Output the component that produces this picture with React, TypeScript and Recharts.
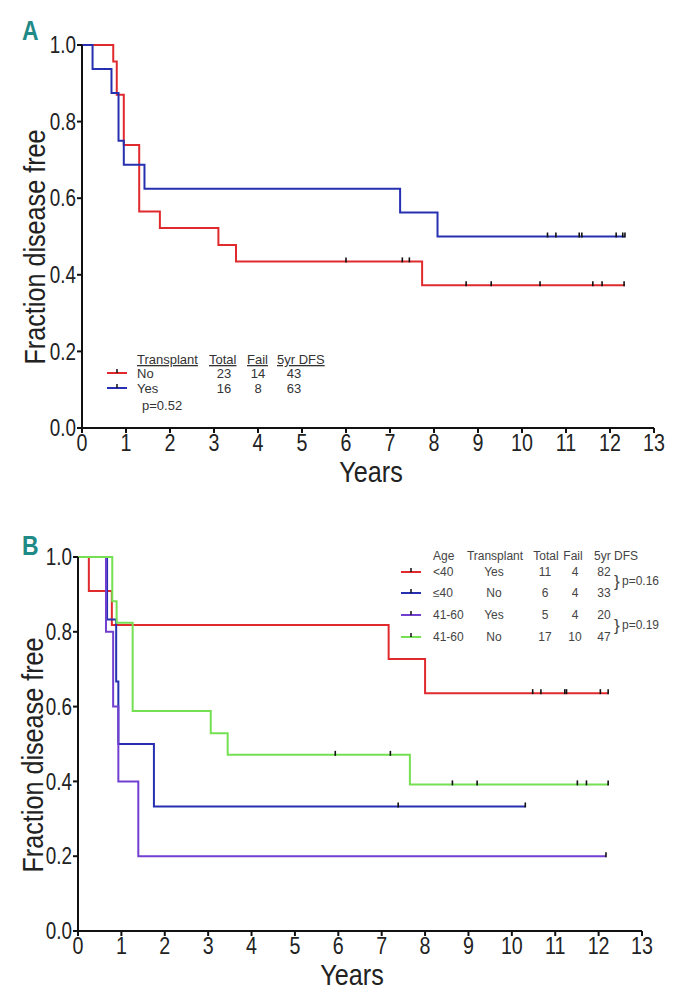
import React from 'react'
import { ComposedChart, Line, XAxis, YAxis } from 'recharts'

// ---- Panel A: transplant No / Yes ----
const aNoTimes = [0, 0.71, 0.79, 0.95, 1.3, 1.77, 3.1, 3.5, 7.73, 12.34]
const aNoSurv = [1.0, 0.957, 0.87, 0.739, 0.565, 0.522, 0.478, 0.435, 0.373, 0.373]
const aNoCensorTimes = [6.0, 7.28, 7.44, 8.73, 9.3, 10.41, 11.61, 11.82, 12.32]
const aNoCensorSurv = [0.435, 0.435, 0.435, 0.373, 0.373, 0.373, 0.373, 0.373, 0.373]

const aYesTimes = [0, 0.24, 0.67, 0.83, 0.95, 1.42, 7.23, 8.08, 12.34]
const aYesSurv = [1.0, 0.9375, 0.875, 0.75, 0.6875, 0.625, 0.5625, 0.5, 0.5]
const aYesCensorTimes = [10.58, 10.77, 11.3, 11.36, 12.14, 12.29, 12.34]
const aYesCensorSurv = [0.5, 0.5, 0.5, 0.5, 0.5, 0.5, 0.5]

// ---- Panel B: age x transplant ----
const bRedTimes = [0, 0.25, 0.78, 7.16, 8.0, 12.22]
const bRedSurv = [1.0, 0.909, 0.818, 0.727, 0.636, 0.636]
const bRedCensorTimes = [10.48, 10.67, 11.22, 11.26, 12.04, 12.22]
const bRedCensorSurv = [0.636, 0.636, 0.636, 0.636, 0.636, 0.636]

const bBlueTimes = [0, 0.67, 0.88, 0.93, 1.75, 10.31]
const bBlueSurv = [1.0, 0.833, 0.667, 0.5, 0.333, 0.333]
const bBlueCensorTimes = [7.38, 10.31]
const bBlueCensorSurv = [0.333, 0.333]

const bPurpleTimes = [0, 0.645, 0.81, 0.93, 1.39, 12.17]
const bPurpleSurv = [1.0, 0.8, 0.6, 0.4, 0.2, 0.2]
const bPurpleCensorTimes = [12.17]
const bPurpleCensorSurv = [0.2]

const bGreenTimes = [0, 0.79, 0.89, 1.26, 3.06, 3.45, 7.65, 12.22]
const bGreenSurv = [1.0, 0.882, 0.824, 0.588, 0.529, 0.471, 0.392, 0.392]
const bGreenCensorTimes = [5.93, 7.2, 8.63, 9.2, 11.51, 11.72, 12.22]
const bGreenCensorSurv = [0.471, 0.471, 0.392, 0.392, 0.392, 0.392, 0.392]

const xTicks = [0, 1, 2, 3, 4, 5, 6, 7, 8, 9, 10, 11, 12, 13]
const yTicks = [0, 0.2, 0.4, 0.6, 0.8, 1.0]

// legend tables
const aHeader = ['Transplant', 'Total', 'Fail', '5yr DFS']
const aRows = [
  ['No', '23', '14', '43'],
  ['Yes', '16', '8', '63'],
]
const aPValue = 'p=0.52'

const bHeader = ['Age', 'Transplant', 'Total', 'Fail', '5yr DFS']
const bRows = [
  ['<40', 'Yes', '11', '4', '82'],
  ['\u226440', 'No', '6', '4', '33'],
  ['41-60', 'Yes', '5', '4', '20'],
  ['41-60', 'No', '17', '10', '47'],
]
const bPValues = ['p=0.16', 'p=0.19']

const RED = '#e02a2e'
const BLUE = '#2630b0'
const PURPLE = '#7240d0'
const GREEN = '#74e052'
const SANS = '"Liberation Sans", Arial, sans-serif'
const SQUEEZE = 0.82

function zip(times: number[], surv: number[]) {
  return times.map((t, i) => ({ t, s: surv[i] }))
}

function CensorTick(props: any) {
  const { cx, cy, index } = props
  if (cx == null || cy == null) return null
  return <line key={`c-${index}`} x1={cx} x2={cx} y1={cy - 4} y2={cy + 1} stroke="#111" strokeWidth={1.6} />
}

function XTick(props: any) {
  const { x, y, payload } = props
  return (
    <g transform={`translate(${x},${y}) scale(${SQUEEZE},1)`}>
      <text x={0} y={0} dy="0.72em" textAnchor="middle" fontFamily={SANS} fontSize={24} fill="#222">
        {payload.value}
      </text>
    </g>
  )
}

function YTick(props: any) {
  const { x, y, payload } = props
  return (
    <g transform={`translate(${x},${y}) scale(${SQUEEZE},1)`}>
      <text x={0} y={0} dy="0.36em" textAnchor="end" fontFamily={SANS} fontSize={23} fill="#222">
        {Number(payload.value).toFixed(1)}
      </text>
    </g>
  )
}

interface Series {
  times: number[]
  surv: number[]
  ctimes: number[]
  csurv: number[]
  color: string
}

function KMChart({
  series,
  margin,
}: {
  series: Series[]
  margin: { top: number; right: number; left: number; bottom: number }
}) {
  return (
    <ComposedChart width={673} height={500} margin={margin}>
      <XAxis
        type="number"
        dataKey="t"
        domain={[0, 13]}
        ticks={xTicks}
        allowDataOverflow
        tick={<XTick />}
        tickSize={5}
        tickMargin={1}
        height={30}
        stroke="#111"
        strokeWidth={2}
        interval={0}
      />
      <YAxis
        type="number"
        dataKey="s"
        domain={[0, 1]}
        ticks={yTicks}
        tick={<YTick />}
        tickSize={5}
        tickMargin={1}
        width={50}
        stroke="#111"
        strokeWidth={2}
        interval={0}
      />
      {series.map((s, i) => (
        <Line
          key={`l-${i}`}
          data={zip(s.times, s.surv)}
          dataKey="s"
          type="stepAfter"
          stroke={s.color}
          strokeWidth={2}
          dot={false}
          activeDot={false}
          isAnimationActive={false}
        />
      ))}
      {series.map((s, i) => (
        <Line
          key={`c-${i}`}
          data={zip(s.ctimes, s.csurv)}
          dataKey="s"
          stroke="none"
          dot={CensorTick}
          activeDot={false}
          isAnimationActive={false}
        />
      ))}
    </ComposedChart>
  )
}

function Swatch({ x, y, color }: { x: number; y: number; color: string }) {
  return (
    <g>
      <line x1={x} x2={x + 20} y1={y} y2={y} stroke={color} strokeWidth={2} />
      <line x1={x + 10} x2={x + 10} y1={y - 4} y2={y} stroke="#111" strokeWidth={1.5} />
    </g>
  )
}

function Title({ x, y, rotate, children }: { x: number; y: number; rotate?: boolean; children: string }) {
  return (
    <g transform={`translate(${x},${y}) ${rotate ? 'rotate(-90)' : ''} scale(0.84,1)`}>
      <text x={0} y={0} textAnchor="middle" dominantBaseline="central" fontFamily={SANS} fontSize={30} fill="#222">
        {children}
      </text>
    </g>
  )
}

export default function App() {
  const aSeries: Series[] = [
    { times: aNoTimes, surv: aNoSurv, ctimes: aNoCensorTimes, csurv: aNoCensorSurv, color: RED },
    { times: aYesTimes, surv: aYesSurv, ctimes: aYesCensorTimes, csurv: aYesCensorSurv, color: BLUE },
  ]
  const bSeries: Series[] = [
    { times: bRedTimes, surv: bRedSurv, ctimes: bRedCensorTimes, csurv: bRedCensorSurv, color: RED },
    { times: bBlueTimes, surv: bBlueSurv, ctimes: bBlueCensorTimes, csurv: bBlueCensorSurv, color: BLUE },
    { times: bPurpleTimes, surv: bPurpleSurv, ctimes: bPurpleCensorTimes, csurv: bPurpleCensorSurv, color: PURPLE },
    { times: bGreenTimes, surv: bGreenSurv, ctimes: bGreenCensorTimes, csurv: bGreenCensorSurv, color: GREEN },
  ]
  const aColors = [RED, BLUE]
  const bColors = [RED, BLUE, PURPLE, GREEN]
  const aCols = [137, 224, 258, 294]
  const bCols = [433, 494, 545, 575, 604]
  const bHeadCols = [433, 495, 546, 573, 616]
  const bRowY = [572, 593, 615, 637]

  return (
    <div style={{ position: 'absolute', left: 0, top: 0, width: 673, height: 1000, background: '#fff' }}>
      <div style={{ position: 'absolute', left: 0, top: 0 }}>
        <KMChart series={aSeries} margin={{ top: 45, right: 19, left: 32, bottom: 42 }} />
      </div>
      <div style={{ position: 'absolute', left: 0, top: 500 }}>
        <KMChart series={bSeries} margin={{ top: 57, right: 31, left: 28, bottom: 39 }} />
      </div>
      <svg
        width={673}
        height={1000}
        style={{ position: 'absolute', left: 0, top: 0, pointerEvents: 'none' }}
      >
        {/* panel letters */}
        <g transform="translate(22,40) scale(0.85,1)">
          <text x={0} y={0} fontFamily={SANS} fontWeight="bold" fontSize={27} fill="#1f8a86">
            A
          </text>
        </g>
        <g transform="translate(22,555) scale(0.85,1)">
          <text x={0} y={0} fontFamily={SANS} fontWeight="bold" fontSize={27} fill="#1f8a86">
            B
          </text>
        </g>

        {/* axis titles */}
        <Title x={35} y={247} rotate>
          Fraction disease free
        </Title>
        <Title x={371} y={472}>
          Years
        </Title>
        <Title x={33} y={755} rotate>
          Fraction disease free
        </Title>
        <Title x={352} y={975}>
          Years
        </Title>

        {/* legend A */}
        <g fontFamily={SANS} fontSize={13} fill="#333">
          {aHeader.map((h, i) => (
            <text key={h} x={[137, 209, 247, 277][i]} y={364} textDecoration="underline">
              {h}
            </text>
          ))}
          {aRows.map((r, ri) => (
            <g key={r[0]}>
              <Swatch x={107} y={373 + ri * 15} color={aColors[ri]} />
              {r.map((c, ci) => (
                <text
                  key={ci}
                  x={aCols[ci]}
                  y={378 + ri * 15}
                  textAnchor={ci === 0 ? 'start' : 'middle'}
                >
                  {c}
                </text>
              ))}
            </g>
          ))}
          <text x={142} y={410}>
            {aPValue}
          </text>
        </g>

        {/* legend B */}
        <g fontFamily={SANS} fontSize={12} fill="#444">
          {bHeader.map((h, i) => (
            <text key={h} x={bHeadCols[i]} y={560} textAnchor={i === 0 ? 'start' : 'middle'}>
              {h}
            </text>
          ))}
          {bRows.map((r, ri) => (
            <g key={ri}>
              <Swatch x={401} y={bRowY[ri]} color={bColors[ri]} />
              {r.map((c, ci) => (
                <text
                  key={ci}
                  x={bCols[ci]}
                  y={bRowY[ri] + 4}
                  textAnchor={ci === 0 ? 'start' : 'middle'}
                >
                  {c}
                </text>
              ))}
            </g>
          ))}
          {bPValues.map((p, i) => (
            <g key={p}>
              <text x={614} y={[587, 631][i]} fontSize={17}>
                {'}'}
              </text>
              <text x={622} y={[585, 629][i]}>
                {p}
              </text>
            </g>
          ))}
        </g>
      </svg>
    </div>
  )
}
